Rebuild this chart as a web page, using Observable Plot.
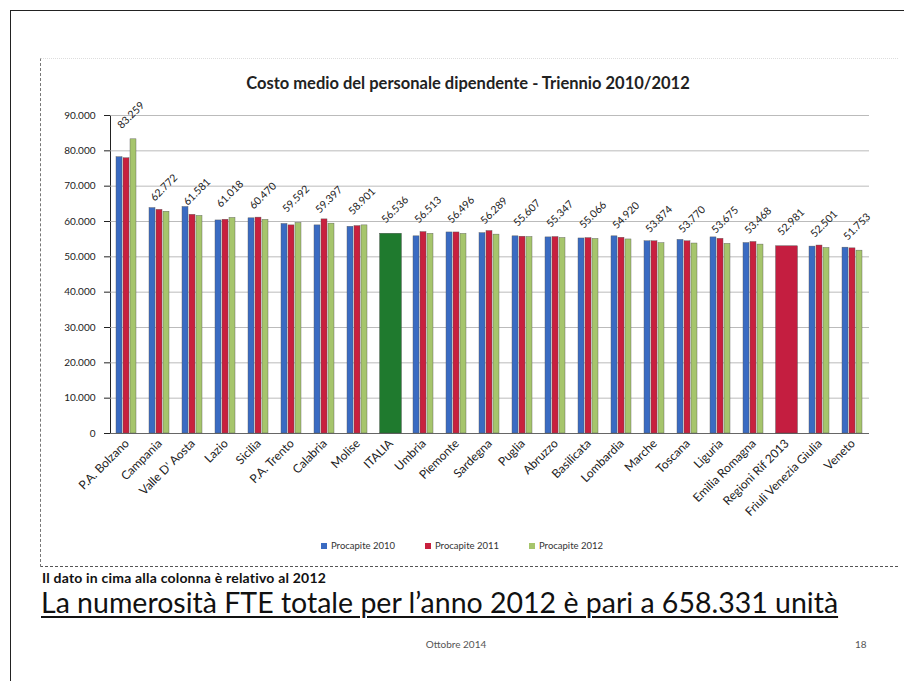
<!DOCTYPE html>
<html><head><meta charset="utf-8">
<script src="https://cdn.jsdelivr.net/npm/d3@7"></script>
<script src="https://cdn.jsdelivr.net/npm/@observablehq/plot@0.6"></script>
<style>
body{margin:0;width:912px;height:689px;position:relative;background:#fff;font-family:Lato,sans-serif;overflow:hidden;color:#222}
#slide{position:absolute;left:10px;top:10px;width:893px;height:670px;border-left:1.5px solid #222;border-top:1.5px solid #222}
#chartbox{position:absolute;left:40px;top:58px;width:857px;height:507px;border-left:1px dashed #777;border-top:1px dotted #ddd;border-bottom:1px dashed #555}
#title{position:absolute;left:0;width:936px;top:73px;text-align:center;font-weight:bold;font-size:16.5px;color:#222}
#chart{position:absolute;left:0;top:95px}
#legend{position:absolute;top:540px;left:0;width:924px;text-align:center;font-size:9.5px;color:#333}
#legend span{margin:0 15px}
#legend i{display:inline-block;width:6px;height:6px;margin-right:4px;vertical-align:0}
#note{position:absolute;left:42px;top:570px;font-size:14px;line-height:15px;font-weight:bold;color:#111;letter-spacing:0.2px}
#headline{position:absolute;left:41px;top:587px;font-size:28.5px;line-height:30px;color:#111;text-decoration:underline;text-underline-offset:3px;text-decoration-thickness:1.5px;white-space:nowrap}
#date{position:absolute;left:0;width:912px;top:638px;text-align:center;font-size:10px;color:#555}
#page{position:absolute;left:855px;top:638px;font-size:10px;color:#555}
</style></head><body>
<div id="slide"></div>
<div id="chartbox"></div>
<div id="title">Costo medio del personale dipendente - Triennio 2010/2012</div>
<div id="chart"></div>
<div id="legend"></div>
<div id="note">Il dato in cima alla colonna è relativo al 2012</div>
<div id="headline">La numerosità FTE totale per l’anno 2012 è pari a 658.331 unità</div>
<div id="date">Ottobre 2014</div>
<div id="page">18</div>
<script>
const regions = ["P.A. Bolzano","Campania","Valle D' Aosta","Lazio","Sicilia","P.A. Trento","Calabria","Molise","ITALIA","Umbria","Piemonte","Sardegna","Puglia","Abruzzo","Basilicata","Lombardia","Marche","Toscana","Liguria","Emilia Romagna","Regioni Rif 2013","Friuli Venezia Giulia","Veneto"];
const v2010 = [78200,63800,64100,60300,60900,59300,58900,58500,null,55800,56900,56700,55800,55500,55200,55800,54400,54800,55500,53900,null,52900,52600];
const v2011 = [77900,63300,61900,60500,61100,58900,60600,58700,null,57000,56900,57300,55700,55600,55300,55400,54400,54400,55100,54200,null,53200,52400];
const v2012 = [83259,62772,61581,61018,60470,59592,59397,58901,56536,56513,56496,56289,55607,55347,55066,54920,53874,53770,53675,53468,52981,52501,51753];
const singleBars = ["ITALIA","Regioni Rif 2013"];
const seriesNames = ["Procapite 2010","Procapite 2011","Procapite 2012"];
const seriesColors = ["#3a6bc2","#c8203e","#a6c56c"];
const singleColors = {"ITALIA":"#1f7a2e","Regioni Rif 2013":"#c41e40"};
const yTicks = [0,10000,20000,30000,40000,50000,60000,70000,80000,90000];

const loc = d3.formatLocale({decimal:",",thousands:".",grouping:[3],currency:["","€"]});
const fmt = loc.format(",d");

const groups = [];
const singles = [];
const labels = [];
regions.forEach((r,i)=>{
  if (singleBars.includes(r)) singles.push({region:r, value:v2012[i]});
  else [v2010,v2011,v2012].forEach((arr,k)=>groups.push({region:r, series:seriesNames[k], value:arr[i]}));
  labels.push({region:r, value:v2012[i]});
});

const chart = Plot.plot({
  width: 912, height: 440,
  marginLeft: 110, marginRight: 43, marginTop: 20, marginBottom: 102,
  style: {fontFamily: "Lato, sans-serif", fontSize: "10px", color: "#222", background: "transparent"},
  fx: {domain: regions, padding: 0, axis: "bottom", tickRotate: -45, tickSize: 0, tickPadding: 8, label: null},
  x: {domain: seriesNames, axis: null, paddingInner: 0.08, paddingOuter: 0.75},
  y: {domain: [0,90000], ticks: yTicks, tickFormat: fmt, label: null, tickSize: 6, tickPadding: 9, line: true},
  color: {domain: seriesNames, range: seriesColors},
  marks: [
    Plot.ruleY(yTicks.filter(d=>d>0), {stroke: "#aaa", strokeWidth: 0.8}),
    Plot.ruleY([0], {stroke: "#666"}),
    Plot.barY(groups, {fx: "region", x: "series", y: "value", fill: "series", stroke: "#555", strokeWidth: 0.4}),
    Plot.barY(singles, {fx: "region", y: "value", fill: d=>singleColors[d.region], stroke: "#444", strokeWidth: 0.4, insetLeft: 5.6, insetRight: 5.6}),
    Plot.text(labels, {fx: "region", y: "value", text: d=>fmt(d.value), rotate: () => -45, textAnchor: "middle", dx: 4, dy: -24, fontSize: 10.5, fill: "#222"})
  ]
});
chart.querySelectorAll('[aria-label="fx-axis tick label"] text, [aria-label="fx-axis tick label"]').forEach(g=>g.setAttribute("font-size","12px"));
document.getElementById("chart").appendChild(chart);

const lg = document.getElementById("legend");
seriesNames.forEach((s,k)=>{
  const sp = document.createElement("span");
  sp.innerHTML = `<i style="background:${seriesColors[k]}"></i>${s}`;
  lg.appendChild(sp);
});
</script>
</body></html>
